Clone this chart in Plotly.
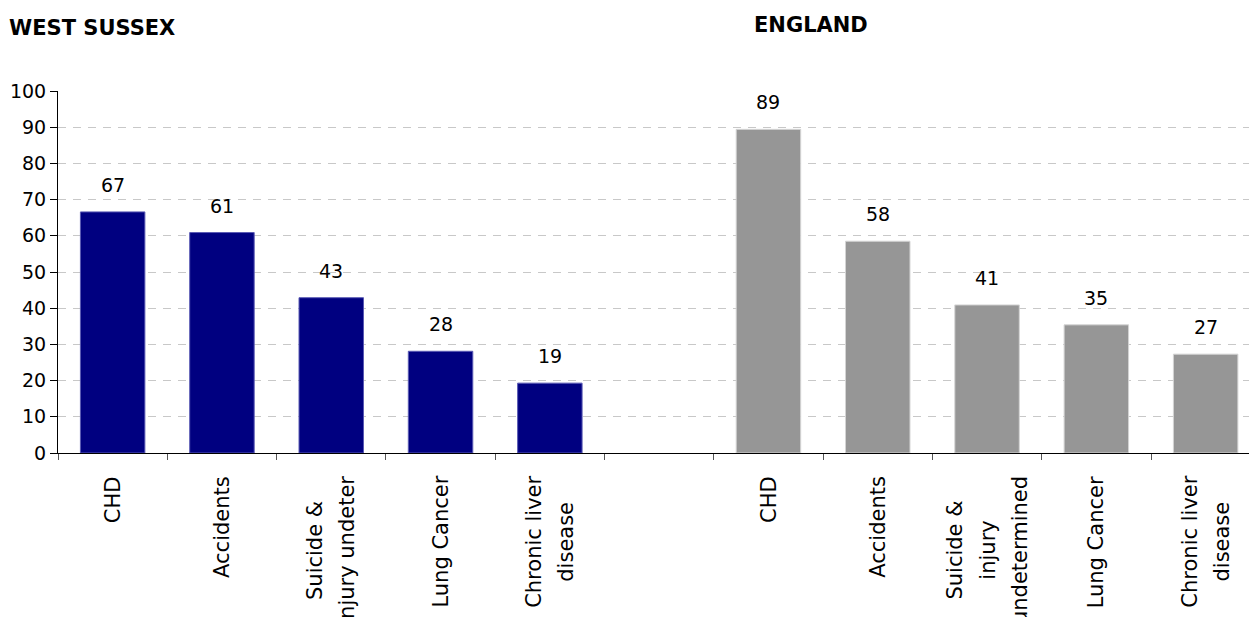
import plotly.graph_objects as go

# ---- data ----
west_categories = ["CHD", "Accidents", "Suicide &<br>injury undeter", "Lung Cancer", "Chronic liver<br>disease"]
west_values = [66.6, 60.9, 42.9, 28.1, 19.3]
england_categories = ["CHD", "Accidents", "Suicide &<br>injury<br>undetermined", "Lung Cancer", "Chronic liver<br>disease"]
england_values = [89.4, 58.5, 40.9, 35.4, 27.3]
y_ticks = [0, 10, 20, 30, 40, 50, 60, 70, 80, 90, 100]
panel_titles = ["WEST SUSSEX", "ENGLAND"]

# ---- layout constants ----
W, H = 1249, 617
ML, MR, MT, MB = 58, 0, 91, 164
FONT = "DejaVu Sans"
NAVY = "#000080"
GREY = "#969696"

west_x = list(range(len(west_categories)))
gap = 1
england_x = [len(west_categories) + gap + i for i in range(len(england_categories))]
n_slots = len(west_categories) + gap + len(england_categories)

fig = go.Figure()
fig.add_trace(go.Bar(x=west_x, y=west_values, width=0.59,
                     marker=dict(color=NAVY, line=dict(color="#5a5ab4", width=1)),
                     showlegend=False, hoverinfo="skip"))
fig.add_trace(go.Bar(x=england_x, y=england_values, width=0.59,
                     marker=dict(color=GREY, line=dict(color="#d4d4d4", width=1)),
                     showlegend=False, hoverinfo="skip"))

annotations = []
# value labels
for xs, vals in ((west_x, west_values), (england_x, england_values)):
    for x, v in zip(xs, vals):
        annotations.append(dict(x=x, y=v, xref="x", yref="y", text=str(round(v)),
                                showarrow=False, yanchor="middle", yshift=27,
                                font=dict(family=FONT, size=19, color="#000")))
# category labels (rotated, centered multi-line)
for xs, cats in ((west_x, west_categories), (england_x, england_categories)):
    for x, c in zip(xs, cats):
        txt = "<br>".join('<span style="font-size:21px">%s</span>' % part for part in c.split("<br>"))
        annotations.append(dict(x=x, y=0, xref="x", yref="paper", text=txt,
                                showarrow=False, textangle=-90, yanchor="top", xanchor="center",
                                yshift=-21, align="center",
                                font=dict(family=FONT, size=25, color="#000")))
# panel titles
plot_w = W - ML - MR
plot_h = H - MT - MB
def px_to_paper_x(px):
    return (px - ML) / plot_w
def px_to_paper_y(py):
    return (H - MB - py) / plot_h
annotations.append(dict(x=px_to_paper_x(7), y=px_to_paper_y(28), xref="paper", yref="paper",
                        text="<b>%s</b>" % panel_titles[0], showarrow=False,
                        xanchor="left", yanchor="middle",
                        font=dict(family=FONT, size=21, color="#000")))
annotations.append(dict(x=px_to_paper_x(752), y=px_to_paper_y(25), xref="paper", yref="paper",
                        text="<b>%s</b>" % panel_titles[1], showarrow=False,
                        xanchor="left", yanchor="middle",
                        font=dict(family=FONT, size=21, color="#000")))

slot_px = 109.3
x_max = -0.5 + plot_w / slot_px

fig.update_layout(
    width=W, height=H,
    margin=dict(l=ML, r=MR, t=MT, b=MB, pad=0),
    paper_bgcolor="white", plot_bgcolor="white",
    font=dict(family=FONT, size=19, color="#000"),
    bargap=0.4,
    annotations=annotations,
    xaxis=dict(range=[-0.5, x_max], showgrid=False, zeroline=False,
               showline=True, linecolor="#000", linewidth=1,
               tickvals=[i - 0.5 for i in range(n_slots + 1)],
               ticktext=[""] * (n_slots + 1),
               ticks="outside", ticklen=6, tickcolor="#555", tickwidth=1),
    yaxis=dict(range=[0, 100], tickvals=y_ticks, showgrid=True,
               gridcolor="#c8c8c8", griddash="8px,7px", gridwidth=1,
               zeroline=False, showline=True, linecolor="#000", linewidth=1,
               ticks="outside", ticklen=7, tickcolor="#000",
               tickfont=dict(family=FONT, size=19, color="#000")),
)

fig.write_html("out.html")
